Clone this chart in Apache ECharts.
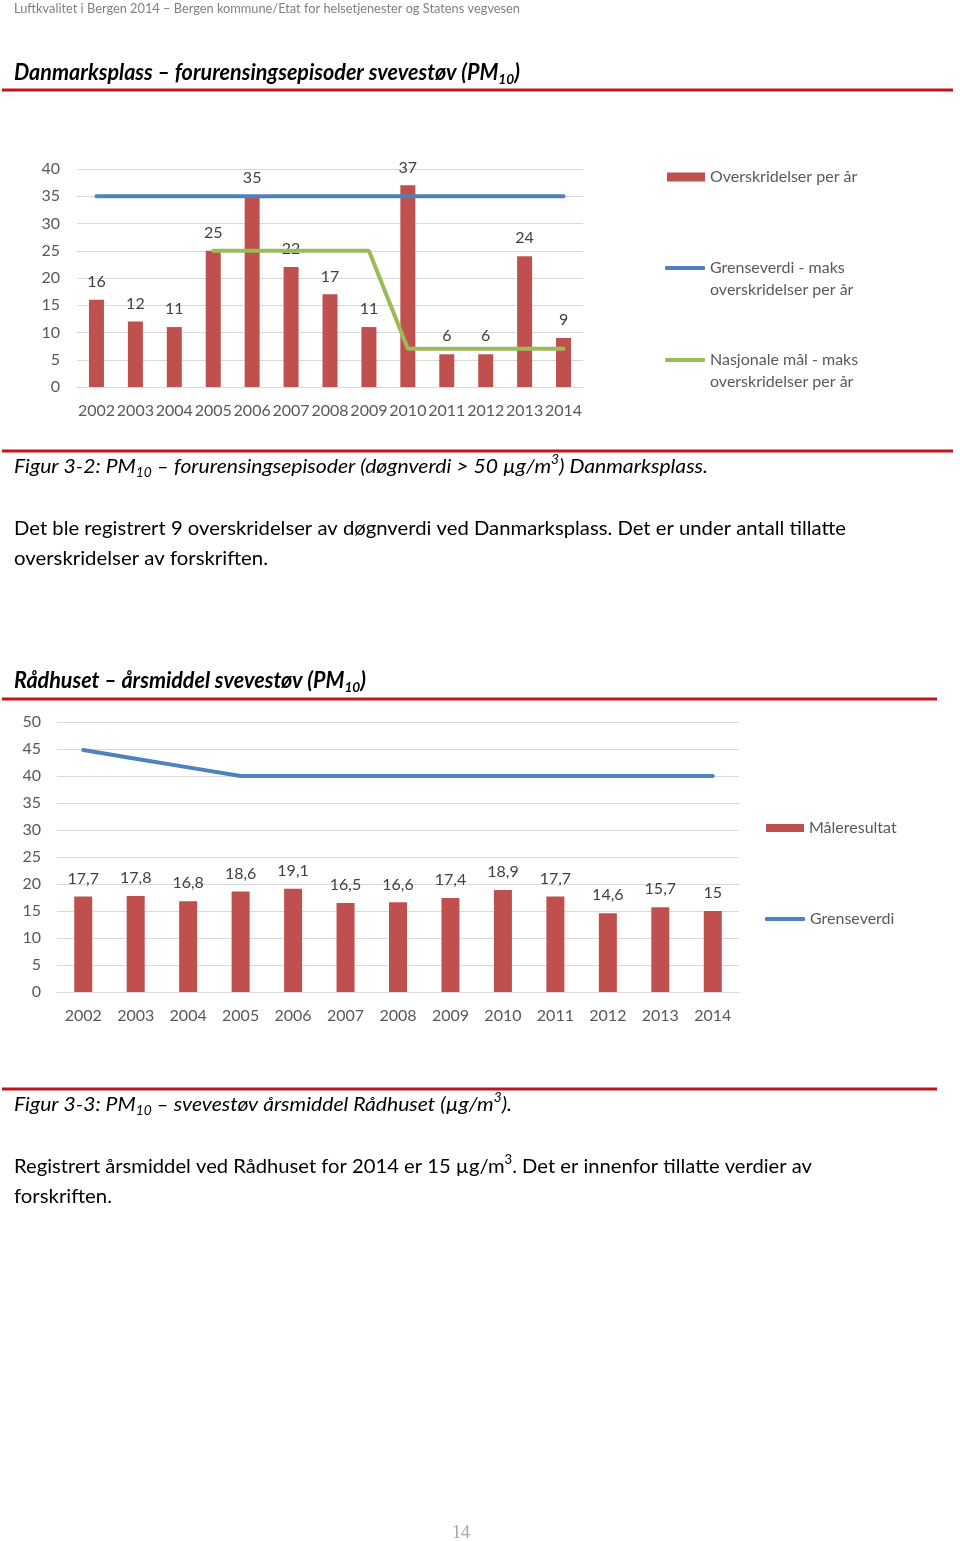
<!DOCTYPE html>
<html>
<head>
<meta charset="utf-8">
<script src="https://cdn.jsdelivr.net/npm/echarts@6/dist/echarts.min.js"></script>
<style>
html,body{margin:0;padding:0;background:#fff;}
#c{width:960px;height:1541px;}
</style>
</head>
<body>
<div id="c"></div>
<script>
// ---------- data ----------
const years = ['2002','2003','2004','2005','2006','2007','2008','2009','2010','2011','2012','2013','2014'];
// Chart 1: Danmarksplass – episodes per year
const overskridelser = [16, 12, 11, 25, 35, 22, 17, 11, 37, 6, 6, 24, 9];
const grenseverdiMaks = [35, 35, 35, 35, 35, 35, 35, 35, 35, 35, 35, 35, 35];
const nasjonaleMaal = [null, null, null, 25, 25, 25, 25, 25, 7, 7, 7, 7, 7];
// Chart 2: Rådhuset – annual mean
const aarsmiddel = [17.7, 17.8, 16.8, 18.6, 19.1, 16.5, 16.6, 17.4, 18.9, 17.7, 14.6, 15.7, 15];
const grenseverdiAar = [44.8, 43.2, 41.6, 40, 40, 40, 40, 40, 40, 40, 40, 40, 40];

const RED = '#C0504D', BLUE = '#4F81BD', GREEN = '#9BBB59';
const AXC = '#595959', LBC = '#404040', GRID = '#D9D9D9', RULE = '#C0141B';
const FAM = 'Lato';

// ---------- text helpers ----------
const mctx = document.createElement('canvas').getContext('2d');
function segs(parts, x, y, size, style, targetW, color) {
  const fontFor = k => `${style} ${k ? Math.round(size * 0.65) : size}px ${FAM}`;
  const widths = parts.map(p => { mctx.font = fontFor(p[1]); return mctx.measureText(p[0]).width; });
  const total = widths.reduce((a, b) => a + b, 0);
  const s = targetW / total;
  let cx = x;
  const out = [];
  parts.forEach((p, i) => {
    const dy = p[1] === 1 ? size * 0.28 : (p[1] === 2 ? -size * 0.38 : 0);
    out.push({type: 'text', x: cx, y: y + dy, scaleX: s, silent: true,
      style: {text: p[0], font: fontFor(p[1]), fill: color, verticalAlign: 'middle', align: 'left'}});
    cx += widths[i] * s;
  });
  return out;
}
function rule(x1, x2, y) {
  return {type: 'rect', silent: true, shape: {x: x1, y: y - 1.5, width: x2 - x1, height: 3}, style: {fill: RULE}};
}
const comma = v => String(v).replace('.', ',');

const graphics = [].concat(
  segs([['Luftkvalitet i Bergen 2014 – Bergen kommune/Etat for helsetjenester og Statens vegvesen', 0]], 14, 9, 13, 'normal', 506, '#7F7F7F'),
  segs([['Danmarksplass – forurensingsepisoder svevestøv (PM', 0], ['10', 1], [')', 0]], 14, 73, 22, 'italic bold', 506, '#000'),
  [rule(2, 953, 90), rule(2, 953, 451)],
  segs([['Figur 3-2: PM', 0], ['10', 1], [' – forurensingsepisoder (døgnverdi > 50 µg/m', 0], ['3', 2], [') Danmarksplass.', 0]], 14, 467, 20, 'italic', 694, '#000'),
  segs([['Det ble registrert 9 overskridelser av døgnverdi ved Danmarksplass. Det er under antall tillatte', 0]], 14, 529, 20, 'normal', 832, '#000'),
  segs([['overskridelser av forskriften.', 0]], 14, 559, 20, 'normal', 254, '#000'),
  segs([['Rådhuset – årsmiddel svevestøv (PM', 0], ['10', 1], [')', 0]], 14, 681, 22, 'italic bold', 352, '#000'),
  [rule(2, 937, 699), rule(2, 937, 1089)],
  segs([['Figur 3-3: PM', 0], ['10', 1], [' – svevestøv årsmiddel Rådhuset (µg/m', 0], ['3', 2], ['). ', 0]], 14, 1105, 20, 'italic', 503, '#000'),
  segs([['Registrert årsmiddel ved Rådhuset for 2014 er 15 µg/m', 0], ['3', 2], ['. Det er innenfor tillatte verdier av', 0]], 14, 1167, 20, 'normal', 798, '#000'),
  segs([['forskriften.', 0]], 14, 1197, 20, 'normal', 98, '#000'),
  [{type: 'text', x: 461, y: 1533, silent: true,
    style: {text: '14', font: '18px "Liberation Serif"', fill: '#A6A6A6', align: 'center', verticalAlign: 'middle'}}]
);

const axisLabel = {color: AXC, fontSize: 16, fontFamily: FAM};
const legendText = {color: AXC, fontSize: 16, fontFamily: FAM, lineHeight: 22};
const legendBase = {orient: 'vertical', padding: 0, selectedMode: false, textStyle: legendText};

const chart = echarts.init(document.getElementById('c'), null, {renderer: 'canvas'});
chart.setOption({
  animation: false,
  backgroundColor: '#fff',
  textStyle: {fontFamily: FAM},
  grid: [
    {left: 77, right: 377, top: 169, bottom: 1154},
    {left: 57, right: 221, top: 722, bottom: 549}
  ],
  xAxis: [
    {type: 'category', gridIndex: 0, data: years, axisTick: {show: false},
     axisLine: {lineStyle: {color: GRID}}, axisLabel: Object.assign({interval: 0, margin: 16}, axisLabel)},
    {type: 'category', gridIndex: 1, data: years, axisTick: {show: false},
     axisLine: {lineStyle: {color: GRID}}, axisLabel: Object.assign({interval: 0, margin: 16}, axisLabel)}
  ],
  yAxis: [
    {type: 'value', gridIndex: 0, min: 0, max: 40, interval: 5, axisLine: {show: false}, axisTick: {show: false},
     splitLine: {lineStyle: {color: GRID}}, axisLabel: Object.assign({margin: 17}, axisLabel)},
    {type: 'value', gridIndex: 1, min: 0, max: 50, interval: 5, axisLine: {show: false}, axisTick: {show: false},
     splitLine: {lineStyle: {color: GRID}}, axisLabel: Object.assign({margin: 16}, axisLabel)}
  ],
  legend: [
    Object.assign({left: 667, top: 166, data: ['Overskridelser per år'], icon: 'rect',
     itemWidth: 38, itemHeight: 9}, legendBase),
    Object.assign({left: 665, top: 235, data: ['Grenseverdi - maks overskridelser per år'], icon: 'roundRect',
     itemWidth: 40, itemHeight: 4, formatter: () => ' \nGrenseverdi - maks\noverskridelser per år'}, legendBase),
    Object.assign({left: 665, top: 327, data: ['Nasjonale mål - maks overskridelser per år'], icon: 'roundRect',
     itemWidth: 40, itemHeight: 4, formatter: () => ' \nNasjonale mål - maks\noverskridelser per år'}, legendBase),
    Object.assign({left: 766, top: 817, data: ['Måleresultat'], icon: 'rect',
     itemWidth: 38, itemHeight: 8}, legendBase),
    Object.assign({left: 765, top: 908, data: ['Grenseverdi'], icon: 'roundRect',
     itemWidth: 40, itemHeight: 4}, legendBase)
  ],
  graphic: graphics,
  series: [
    {name: 'Overskridelser per år', type: 'bar', xAxisIndex: 0, yAxisIndex: 0, data: overskridelser,
     barWidth: 15, itemStyle: {color: RED},
     label: {show: true, position: 'top', distance: 10, color: LBC, fontSize: 16, fontFamily: FAM}},
    {name: 'Grenseverdi - maks overskridelser per år', type: 'line', xAxisIndex: 0, yAxisIndex: 0,
     data: grenseverdiMaks, symbol: 'none', lineStyle: {color: BLUE, width: 4, cap: 'round'}, itemStyle: {color: BLUE}, z: 3},
    {name: 'Nasjonale mål - maks overskridelser per år', type: 'line', xAxisIndex: 0, yAxisIndex: 0,
     data: nasjonaleMaal, symbol: 'none', lineStyle: {color: GREEN, width: 4, cap: 'round'}, itemStyle: {color: GREEN}, z: 3},
    {name: 'Måleresultat', type: 'bar', xAxisIndex: 1, yAxisIndex: 1, data: aarsmiddel,
     barWidth: 18, itemStyle: {color: RED},
     label: {show: true, position: 'top', distance: 10, color: LBC, fontSize: 16, fontFamily: FAM,
             formatter: p => comma(p.value)}},
    {name: 'Grenseverdi', type: 'line', xAxisIndex: 1, yAxisIndex: 1, data: grenseverdiAar,
     symbol: 'none', lineStyle: {color: BLUE, width: 4, cap: 'round'}, itemStyle: {color: BLUE}, z: 3}
  ]
});
</script>
</body>
</html>
